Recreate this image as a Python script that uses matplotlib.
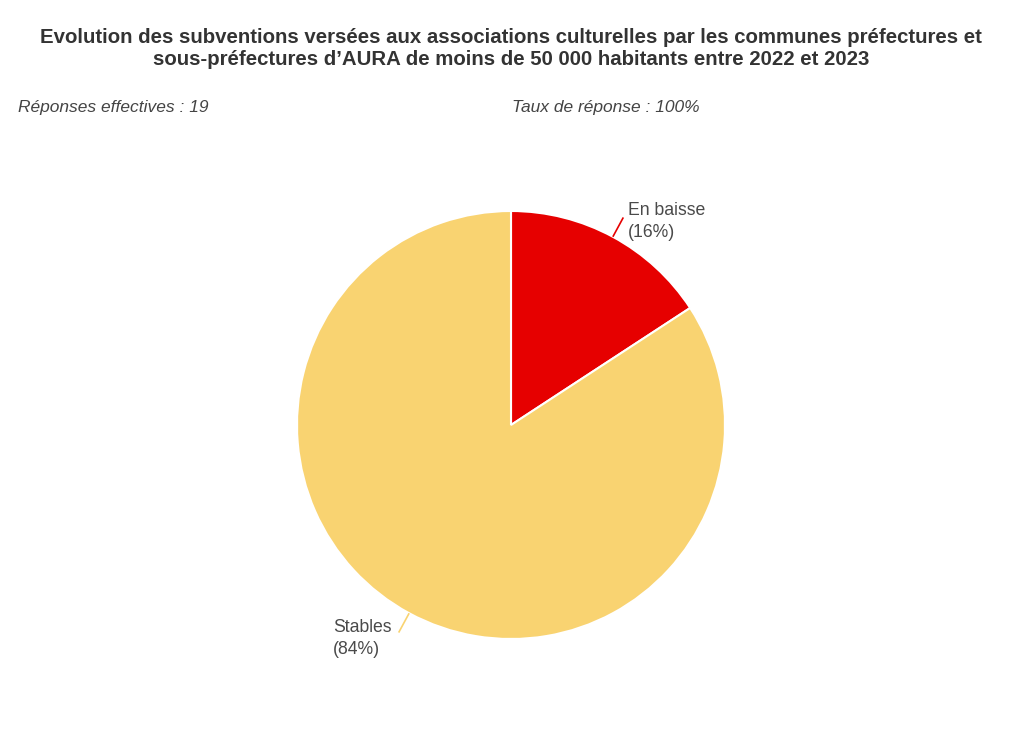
import numpy as np
import matplotlib
matplotlib.use("Agg")
import matplotlib.pyplot as plt

categories = ["En baisse", "Stables"]
values = [3, 16]
percent_labels = ["16%", "84%"]
colors = ["#E60000", "#F9D371"]

title = ("Evolution des subventions versées aux associations culturelles par les communes préfectures et\n"
         "sous-préfectures d’AURA de moins de 50 000 habitants entre 2022 et 2023")
sub_left = "Réponses effectives : 19"
sub_right = "Taux de réponse : 100%"

plt.rcParams['font.family'] = ['Liberation Sans', 'DejaVu Sans']

W, H = 1024, 729
fig = plt.figure(figsize=(W / 100, H / 100), dpi=100)
fig.patch.set_facecolor("white")
ax = fig.add_axes([0, 0, 1, 1])
ax.set_xlim(0, W)
ax.set_ylim(0, H)
ax.axis("off")

cx, cy, R = 511, H - 425, 214
wedges, _ = ax.pie(values, colors=colors, startangle=90, counterclock=False,
                   center=(cx, cy), radius=R,
                   wedgeprops=dict(edgecolor="white", linewidth=1.5))
ax.set_xlim(0, W)
ax.set_ylim(0, H)
ax.set_aspect("equal")

for w, cat, pl, col in zip(wedges, categories, percent_labels, colors):
    mid = np.deg2rad((w.theta1 + w.theta2) / 2)
    x0, y0 = cx + R * np.cos(mid), cy + R * np.sin(mid)
    x1, y1 = cx + (R + 22) * np.cos(mid), cy + (R + 22) * np.sin(mid)
    ax.plot([x0, x1], [y0, y1], color=col, lw=1.2, solid_capstyle="butt")
    if np.cos(mid) >= 0:
        ax.text(x1 + 5, y1 - 4, f"{cat}\n({pl})", ha="left", va="center",
                fontsize=12.7, color="#4a4a4a", linespacing=1.4)
    else:
        ax.text(x1 - 7, y1 - 6, f"{cat}\n({pl})", ha="right", va="center",
                fontsize=12.7, color="#4a4a4a", linespacing=1.4, multialignment="left")

fig.text(511 / W, 1 - 48.5 / H, title, ha="center", va="center", fontsize=14.7,
         fontweight="bold", color="#333333", linespacing=1.2)
fig.text(18 / W, 1 - 107.5 / H, sub_left, ha="left", va="center", fontsize=12.5,
         style="italic", color="#444444")
fig.text(512 / W, 1 - 107.5 / H, sub_right, ha="left", va="center", fontsize=12.5,
         style="italic", color="#444444")

fig.savefig("out.png", dpi=100, facecolor="white")
